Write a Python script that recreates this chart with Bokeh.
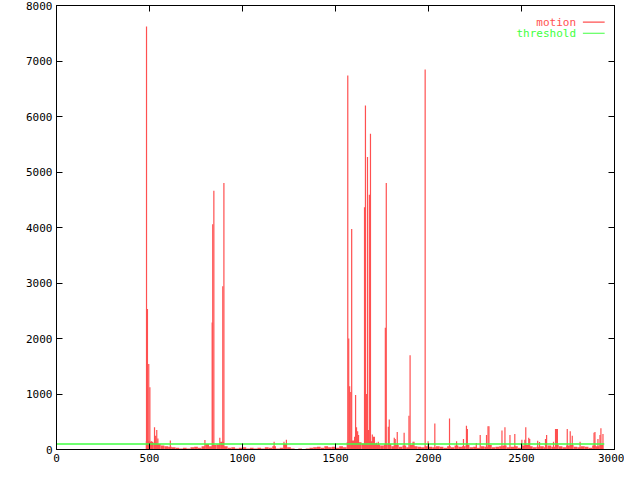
from bokeh.plotting import figure
from bokeh.models import (LinearAxis, FixedTicker, Range1d, Label, BoxAnnotation,
                          CustomJSTickFormatter)
from bokeh.embed import file_html
from bokeh.resources import INLINE

# ---- data -------------------------------------------------------------
n_frames = 2945
threshold = 100

# notable impulses (frame, motion)
spike_frames = [484, 489, 496, 502, 510, 527, 533, 539, 545, 612, 798,
                837, 840, 846, 878, 894, 900, 1170, 1223, 1236,
                1566, 1571, 1576, 1582, 1587, 1603, 1608, 1613, 1619, 1624,
                1656, 1661, 1666, 1672, 1677, 1682, 1688, 1698, 1704, 1709,
                1720, 1730, 1768, 1773, 1784, 1789, 1816, 1821, 1832, 1869,
                1895, 1901, 1917, 1922, 1982, 1998, 2034, 2113, 2151, 2188,
                2204, 2209, 2257, 2278, 2312, 2320, 2325, 2395, 2411, 2438,
                2464, 2502, 2518, 2523, 2539, 2544, 2587, 2597, 2629, 2635,
                2672, 2683, 2688, 2693, 2746, 2762, 2773, 2815, 2890, 2895,
                2911, 2922, 2927, 2938]
spike_values = [7620, 2530, 1540, 1120, 150, 400, 250, 350, 200, 160, 170,
                2290, 4060, 4660, 210, 2940, 4800, 140, 140, 175,
                6740, 2000, 1140, 1035, 3975, 230, 980, 400, 330, 260,
                4365, 6200, 1000, 5270, 350, 4590, 5690, 270, 230, 230,
                120, 140, 2195, 4800, 410, 540, 210, 190, 315, 300,
                610, 1700, 140, 140, 6845, 150, 470, 560, 150, 187,
                430, 370, 117, 262, 262, 420, 420, 344, 400, 262,
                280, 175, 175, 400, 210, 190, 157, 134, 190, 262,
                140, 370, 370, 370, 370, 330, 250, 140, 300, 315,
                190, 262, 385, 280]

# low-level motion, one value per 20-frame block starting at frame 480
noise_start = 480
noise_block = 20
noise_values = [150, 140, 120, 100, 70, 60, 50, 40, 30, 20,
                30, 20, 40, 50, 30, 60, 100, 60, 80, 90,
                140, 60, 30, 40, 20, 30, 40, 20, 30, 20,
                30, 20, 40, 30, 60, 20, 30, 100, 40, 20,
                10, 20, 10, 20, 30, 40, 50, 30, 60, 40,
                50, 30, 60, 40, 130, 160, 180, 130, 110, 160,
                150, 110, 90, 70, 90, 100, 60, 80, 50, 70,
                40, 80, 60, 50, 40, 60, 50, 40, 60, 50,
                30, 60, 40, 70, 50, 60, 80, 40, 50, 30,
                60, 50, 80, 40, 50, 60, 70, 40, 50, 60,
                30, 70, 80, 60, 40, 50, 60, 40, 70, 50,
                80, 60, 40, 70, 80, 50, 40, 60, 50, 30,
                70, 60, 80]

x_ticks = [0, 500, 1000, 1500, 2000, 2500, 3000]
y_ticks = [0, 1000, 2000, 3000, 4000, 5000, 6000, 7000, 8000]

RED = "#ff5050"
GREEN = "#40ff40"
FONT = "DejaVu Sans Mono"

# ---- figure -------------------------------------------------------------
p = figure(width=624, height=464, x_range=Range1d(0, 3000), y_range=Range1d(0, 8000),
           output_backend="svg", toolbar_location=None,
           min_border_left=56, min_border_right=10, min_border_top=5, min_border_bottom=14)
p.xgrid.visible = False
p.ygrid.visible = False
p.outline_line_color = "black"
p.outline_line_width = 1
p.outline_line_alpha = 1
p.background_fill_color = "white"
p.border_fill_color = "white"

noise_x = [noise_start + noise_block * i + noise_block / 2 for i in range(len(noise_values))]
p.vbar(x=noise_x, width=noise_block, top=noise_values, bottom=0,
       fill_color=RED, line_color=None)
p.segment(x0=spike_frames, y0=[0] * len(spike_frames), x1=spike_frames, y1=spike_values,
          line_color=RED, line_width=1.2)
p.line(x=[0, n_frames], y=[0, 0], line_color=RED, line_width=1.2)
p.line(x=[0, n_frames], y=[threshold, threshold], line_color=GREEN, line_width=1.5)

for ax, ticks in ((p.xaxis[0], x_ticks), (p.yaxis[0], y_ticks)):
    ax.ticker = FixedTicker(ticks=ticks)
    ax.major_tick_in = 6
    ax.major_tick_out = 0
    ax.minor_tick_in = 0
    ax.minor_tick_out = 0
    ax.axis_line_color = "black"
    ax.major_label_text_font = FONT
    ax.major_label_text_font_size = "11px"
    ax.major_label_text_color = "black"
    ax.major_label_standoff = 4

blank = CustomJSTickFormatter(code="return ''")
top_ax = LinearAxis(ticker=FixedTicker(ticks=x_ticks), formatter=blank,
                    major_tick_in=6, major_tick_out=0, minor_tick_in=0, minor_tick_out=0,
                    major_label_standoff=0, major_label_text_font_size="0px")
right_ax = LinearAxis(ticker=FixedTicker(ticks=y_ticks), formatter=blank,
                      major_tick_in=6, major_tick_out=0, minor_tick_in=0, minor_tick_out=0,
                      major_label_standoff=0, major_label_text_font_size="0px")
p.add_layout(top_ax, "above")
p.add_layout(right_ax, "right")

# key, gnuplot style (text left, sample right)
for text, color, yv in (("motion", RED, 7700), ("threshold", GREEN, 7500)):
    p.add_layout(Label(x=2793, y=yv, text=text, text_align="right", text_baseline="middle",
                       text_color=color, text_font=FONT, text_font_size="11px"))
    p.add_layout(BoxAnnotation(left=2830, right=2947, bottom=yv - 10, top=yv + 10,
                               fill_color=color, fill_alpha=1, line_color=None))

open("out.html", "w").write(file_html(p, INLINE))
